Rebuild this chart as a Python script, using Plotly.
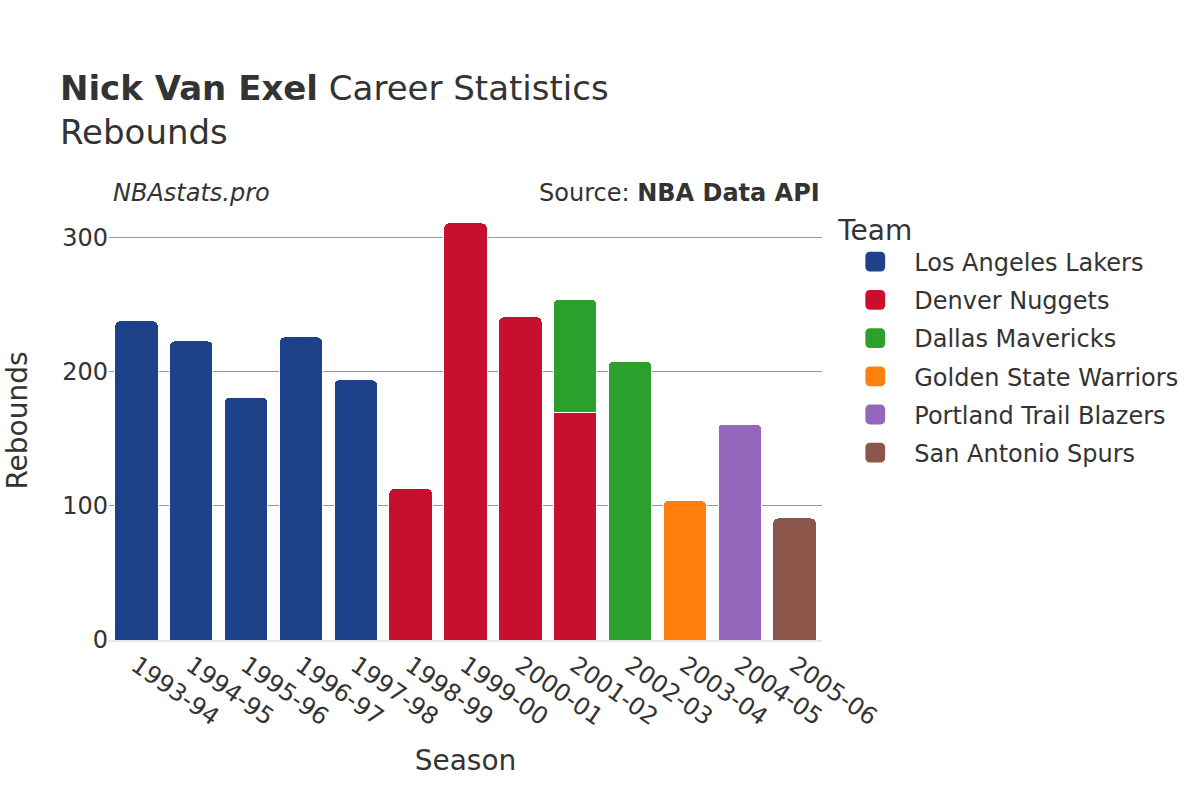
import plotly.graph_objects as go

seasons = ["1993-94", "1994-95", "1995-96", "1996-97", "1997-98", "1998-99",
           "1999-00", "2000-01", "2001-02", "2002-03", "2003-04", "2004-05", "2005-06"]

teams = ["Los Angeles Lakers", "Denver Nuggets", "Dallas Mavericks",
         "Golden State Warriors", "Portland Trail Blazers", "San Antonio Spurs"]
colors = ["#1d428a", "#c8102e", "#2ca02c", "#ff7f0e", "#9467bd", "#8c564b"]

lakers_seasons = ["1993-94", "1994-95", "1995-96", "1996-97", "1997-98"]
lakers_reb = [238, 223, 181, 226, 194]
nuggets_seasons = ["1998-99", "1999-00", "2000-01", "2001-02"]
nuggets_reb = [113, 311, 241, 170]
mavs_seasons = ["2001-02", "2002-03"]
mavs_reb = [84, 208]
warriors_seasons = ["2003-04"]
warriors_reb = [104]
blazers_seasons = ["2004-05"]
blazers_reb = [161]
spurs_seasons = ["2005-06"]
spurs_reb = [91]

series = [
    (lakers_seasons, lakers_reb),
    (nuggets_seasons, nuggets_reb),
    (mavs_seasons, mavs_reb),
    (warriors_seasons, warriors_reb),
    (blazers_seasons, blazers_reb),
    (spurs_seasons, spurs_reb),
]

fig = go.Figure()
for name, color, (xs, ys) in zip(teams, colors, series):
    fig.add_trace(go.Bar(
        x=xs, y=ys, name=name, legendgroup=name,
        marker=dict(color=color, line=dict(width=1, color="#ffffff")),
    ))

font = "DejaVu Sans"
fig.update_layout(
    width=1200, height=800,
    barmode="stack",
    bargap=0.21,
    barcornerradius=5,
    plot_bgcolor="#ffffff",
    paper_bgcolor="#ffffff",
    font=dict(family=font, color="#333333", size=24),
    title=dict(
        text="<b>Nick Van Exel</b> Career Statistics<br>Rebounds",
        x=0.05, xanchor="left", y=0.875, yanchor="top",
        font=dict(size=34, family=font, color="#333333"),
    ),
    margin=dict(l=109, r=378, t=201, b=160),
    xaxis=dict(
        title=dict(text="Season", font=dict(size=28), standoff=20),
        categoryorder="array", categoryarray=seasons,
        tickangle=35, tickfont=dict(size=24),
        showline=True, linecolor="#e5e5e5", linewidth=2,
    ),
    yaxis=dict(
        title=dict(text="Rebounds", font=dict(size=28), standoff=26),
        tickfont=dict(size=24),
        gridcolor="#999999", gridwidth=1,
        tickvals=[0, 100, 200, 300],
        zeroline=False,
    ),
    legend=dict(
        title=dict(text="Team", font=dict(size=28)),
        font=dict(size=24),
        x=1.02, xanchor="left", y=0.995, yanchor="top",
        traceorder="grouped",
        tracegroupgap=4,
        itemwidth=68,
    ),
    annotations=[
        dict(text="<i>NBAstats.pro</i>", x=0.003, xref="paper", xanchor="left",
             y=0.981, yref="paper", yanchor="bottom", showarrow=False,
             font=dict(size=24, color="#333333")),
        dict(text="Source: <b>NBA Data API</b>", x=1, xref="paper", xanchor="right",
             y=0.981, yref="paper", yanchor="bottom", showarrow=False,
             font=dict(size=24, color="#333333")),
    ],
)

post = """
document.body.style.margin = '0px';
document.querySelectorAll('.legendpoints path').forEach(function(p){
  var t = p.getAttribute('transform') || '';
  p.setAttribute('transform', t + ' scale(1.8)');
});
"""
fig.write_html("out.html", post_script=post, config={"displayModeBar": False})
